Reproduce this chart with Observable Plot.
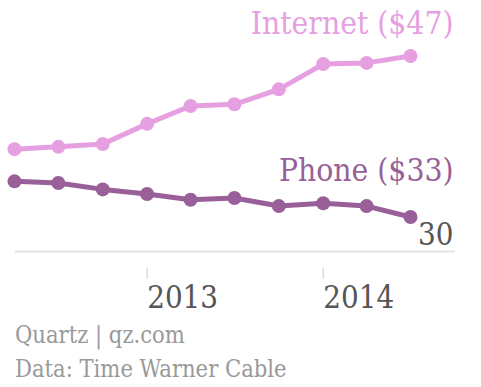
<!DOCTYPE html>
<html>
<head>
<meta charset="utf-8">
<script src="https://cdn.jsdelivr.net/npm/d3@7"></script>
<script src="https://cdn.jsdelivr.net/npm/@observablehq/plot@0.6"></script>
<style>
  body { margin: 0; background: #fff; }
  #footer { font-family: "DejaVu Serif Condensed", "DejaVu Serif", serif; font-size: 23.5px; line-height: 34px; color: #999; padding-left: 15px; }
</style>
</head>
<body>
<div id="chart"></div>
<div id="footer"><div>Quartz | qz.com</div><div>Data: Time Warner Cable</div></div>
<script>
const quarters = ["2012-04-01","2012-07-01","2012-10-01","2013-01-01","2013-04-01","2013-07-01","2013-10-01","2014-01-01","2014-04-01","2014-07-01"];
const internet = [38.9, 39.1, 39.35, 41.1, 42.65, 42.8, 44.1, 46.3, 46.4, 47.0];
const phone = [36.1, 35.96, 35.4, 35.0, 34.5, 34.65, 33.95, 34.2, 33.95, 33.0];
const seriesNames = ["Internet", "Phone"];
const seriesColors = ["#e6a0e1", "#985f99"];
const xTicks = ["2013-01-01", "2014-01-01"];
const yTicks = [30];

const FONT = "'DejaVu Serif Condensed', 'DejaVu Serif', serif";
const parse = d3.utcParse("%Y-%m-%d");
const rows = [];
[internet, phone].forEach((vals, i) => {
  vals.forEach((v, j) => rows.push({series: seriesNames[i], date: parse(quarters[j]), value: v}));
});
const lastRows = seriesNames.map((s, i) => {
  const vals = [internet, phone][i];
  return {series: s, date: parse(quarters[quarters.length - 1]), value: vals[vals.length - 1],
          label: `${s} ($${Math.round(vals[vals.length - 1])})`};
});

const plot = Plot.plot({
  width: 481,
  height: 318,
  marginLeft: 15,
  marginRight: 26,
  marginTop: 44,
  marginBottom: 50,
  style: {fontFamily: FONT, background: "#fff"},
  x: {type: "utc", domain: [parse(quarters[0]), parse(quarters[quarters.length - 1])], range: [14, 410]},
  y: {domain: [30, 48], range: [251, 44]},
  color: {domain: seriesNames, range: seriesColors},
  marks: [
    Plot.ruleY(yTicks, {stroke: "#e4e4e4", strokeWidth: 2}),
    Plot.axisX({ticks: xTicks.map(parse), tickFormat: d3.utcFormat("%Y"), tickSize: 11, tickPadding: 6,
      stroke: "#ddd", strokeWidth: 1.5, fill: "#555", fontSize: 31, textAnchor: "start", label: null}),
    Plot.axisY({anchor: "right", ticks: yTicks, tickSize: 0, tickPadding: 0, textAnchor: "end", dx: -2, dy: -16,
      fill: "#555", fontSize: 31, label: null}),
    Plot.line(rows, {x: "date", y: "value", z: "series", stroke: "series", strokeWidth: 5}),
    Plot.dot(rows, {x: "date", y: "value", fill: "series", r: 7}),
    Plot.text(lastRows.slice(0, 1), {x: "date", y: "value", text: "label", fill: "series", fontSize: 31.5,
      textAnchor: "end", lineAnchor: "bottom", dx: 43, dy: -22}),
    Plot.text(lastRows.slice(1), {x: "date", y: "value", text: "label", fill: "series", fontSize: 31.5,
      textAnchor: "end", lineAnchor: "bottom", dx: 43, dy: -36})
  ]
});
document.getElementById("chart").appendChild(plot);
</script>
</body>
</html>
